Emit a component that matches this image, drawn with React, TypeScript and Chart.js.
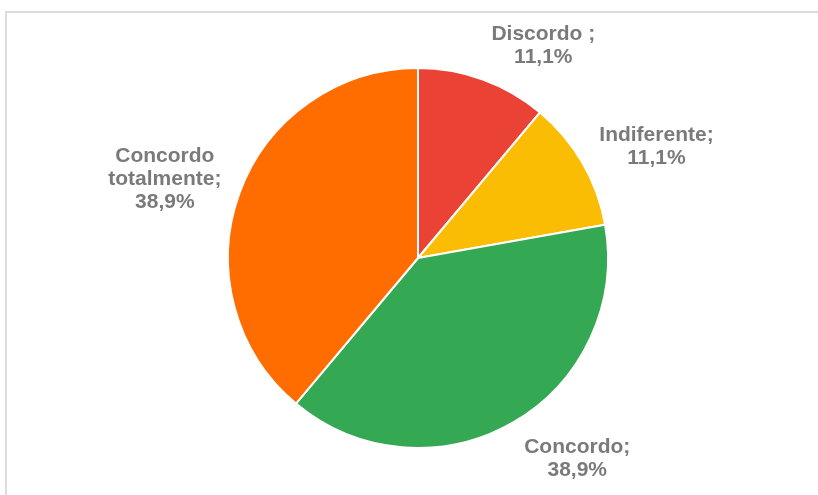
import React, { useEffect, useRef } from "react";
import { Chart, registerables } from "chart.js";

Chart.register(...registerables);

const categories = ["Discordo", "Indiferente", "Concordo", "Concordo totalmente"];
const percentages = [11.1, 11.1, 38.9, 38.9];
const labelLines = [
  ["Discordo ;", "11,1%"],
  ["Indiferente;", "11,1%"],
  ["Concordo;", "38,9%"],
  ["Concordo", "totalmente;", "38,9%"],
];
const sliceColors = ["#EA4335", "#FBBC04", "#34A853", "#FF6D01"];

const FONT = 'bold 21px "Liberation Sans", Arial, sans-serif';
const LINE_H = 23;

const outsideLabels = {
  id: "outsideLabels",
  afterDatasetsDraw(chart: any) {
    const ctx = chart.ctx;
    const meta = chart.getDatasetMeta(0);
    ctx.save();
    ctx.font = FONT;
    ctx.fillStyle = "#7a7a7a";
    ctx.textAlign = "center";
    ctx.textBaseline = "middle";
    meta.data.forEach((arc: any, i: number) => {
      const { x, y, startAngle, endAngle, outerRadius } = arc.getProps(
        ["x", "y", "startAngle", "endAngle", "outerRadius"],
        true
      );
      const mid = (startAngle + endAngle) / 2; // canvas angle
      const r = outerRadius + 16;
      const px = x + Math.cos(mid) * r;
      const py = y + Math.sin(mid) * r + 3;
      const lines = labelLines[i];
      const w = Math.max(...lines.map((l) => ctx.measureText(l).width));
      const h = lines.length * LINE_H;
      const cosFromTop = -Math.sin(mid);
      const left = Math.cos(mid) >= 0 ? px + 3 : px - 3 - w;
      const fy = (cosFromTop + 1) / 2;
      const top = py - h * fy;
      lines.forEach((l, k) => {
        ctx.fillText(l, left + w / 2, top + LINE_H * (k + 0.5));
      });
    });
    ctx.restore();
  },
};

export default function App() {
  const ref = useRef<HTMLCanvasElement>(null);
  useEffect(() => {
    if (!ref.current) return;
    const chart = new Chart(ref.current, {
      type: "pie",
      data: {
        labels: categories,
        datasets: [
          {
            data: percentages,
            backgroundColor: sliceColors,
            borderColor: "#ffffff",
            borderWidth: 2,
          },
        ],
      },
      options: {
        animation: false,
        responsive: false,
        maintainAspectRatio: false,
        layout: { padding: { top: 67, bottom: 46, left: 227, right: 209 } },
        plugins: {
          legend: { display: false },
          tooltip: { enabled: false },
        },
      },
      plugins: [outsideLabels],
    });
    return () => chart.destroy();
  }, []);
  return (
    <div style={{ position: "fixed", left: 0, top: 0, width: 818, height: 495, background: "#fff", overflow: "hidden" }}>
      <div
        style={{
          position: "absolute",
          left: 5,
          top: 11,
          width: 900,
          height: 600,
          borderTop: "2px solid #dcdcdc",
          borderLeft: "2px solid #dcdcdc",
        }}
      />
      <canvas ref={ref} width={818} height={495} style={{ position: "absolute", left: 0, top: 0 }} />
    </div>
  );
}
